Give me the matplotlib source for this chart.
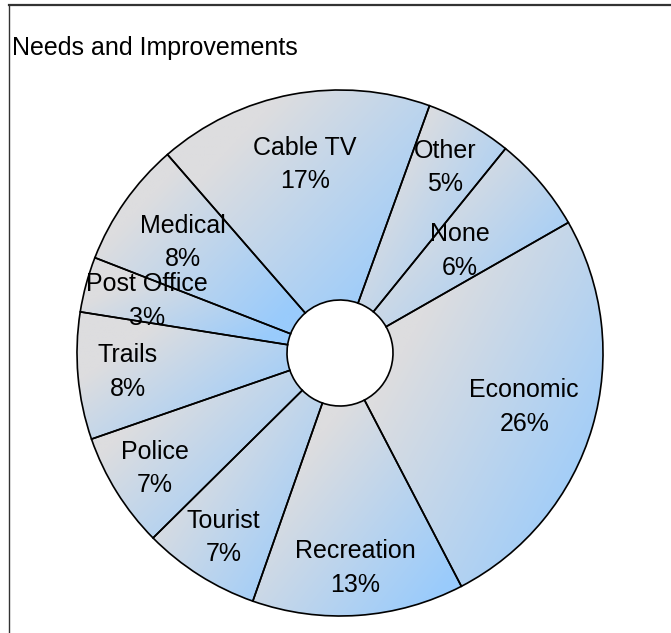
import numpy as np
import matplotlib
matplotlib.use('Agg')
import matplotlib.pyplot as plt
from matplotlib.lines import Line2D

plt.rcParams['font.family'] = ['Liberation Sans', 'DejaVu Sans']

# ─── Data (percent shares, clockwise from top) ───
categories = ['Other', 'None', 'Economic', 'Recreation', 'Tourist',
              'Police', 'Trails', 'Post Office', 'Medical', 'Cable TV']
shares = [5.3, 5.9, 25.6, 13.0, 7.2, 7.1, 7.8, 3.4, 7.7, 16.9]

# label distance (fraction of radius) for each slice — layout only
label_r = [0.81, 0.60, 0.73, 0.82, 0.83, 0.83, 0.81, 0.76, 0.73, 0.73]

GRAY = np.array([221, 221, 223]) / 255
BLUE = np.array([153, 203, 252]) / 255

W, H = 671, 633
fig = plt.figure(figsize=(W / 100, H / 100), dpi=100)

# chart frame (top + left edges)
fig.add_artist(Line2D([8.5 / W, 1.0], [1 - 4.8 / H, 1 - 4.8 / H],
                      transform=fig.transFigure, color='#333333', lw=1.6))
fig.add_artist(Line2D([8.5 / W, 8.5 / W], [0.0, 1 - 4.8 / H],
                      transform=fig.transFigure, color='#333333', lw=1.0))

fig.text(12 / W, 1 - 48 / H, 'Needs and Improvements', fontsize=18,
         ha='left', va='center', color='black')

# pie area: centre (340, 353) px, radius 263 px
ax = fig.add_axes([77 / W, (H - 616) / H, 526 / W, 526 / H])
wedges, _ = ax.pie(shares, startangle=70.1, counterclock=False, radius=1.0,
                   wedgeprops=dict(width=1 - 53 / 263, edgecolor='black',
                                   linewidth=1.2, facecolor='none'))
ax.axis('off')

# gradient fill per slice: gray on the top-left, blue toward bottom-right
n = 200
u = np.linspace(0, 1, n)[None, :]
v = np.linspace(1, 0, n)[:, None]          # origin lower: row 0 = bottom
s = 0.55 * u + 0.45 * v
t = np.clip((s - 0.25) / 0.65, 0, 1)
grad = GRAY[None, None, :] * (1 - t[..., None]) + BLUE[None, None, :] * t[..., None]
for w in wedges:
    ext = w.get_path().get_extents()
    im = ax.imshow(grad, extent=(ext.x0, ext.x1, ext.y0, ext.y1),
                   origin='lower', interpolation='bilinear', zorder=0,
                   aspect='auto')
    im.set_clip_path(w)
    w.set_clip_on(False)
ax.set_xlim(-1, 1); ax.set_ylim(-1, 1)

total = sum(shares)
for w, name, val, r in zip(wedges, categories, shares, label_r):
    mid = np.radians((w.theta1 + w.theta2) / 2)
    ax.text(r * np.cos(mid), r * np.sin(mid),
            f'{name}\n{round(val / total * 100):.0f}%',
            ha='center', va='center', fontsize=18, linespacing=1.5,
            color='black')

plt.savefig('out.png', dpi=100)
plt.close()
